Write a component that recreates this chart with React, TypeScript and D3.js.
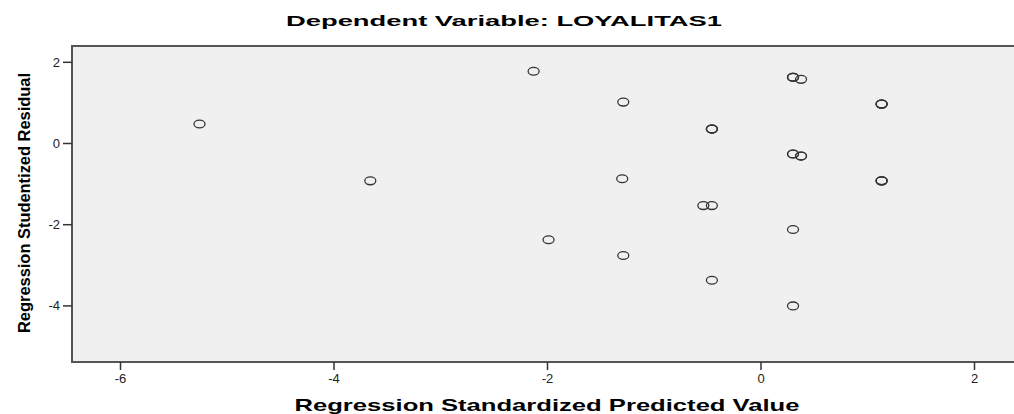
import React from "react";
import * as d3 from "d3";

const title = "Dependent Variable: LOYALITAS1";
const xTitle = "Regression Standardized Predicted Value";
const yTitle = "Regression Studentized Residual";

const xTicks = [-6, -4, -2, 0, 2];
const yTicks = [2, 0, -2, -4];

// Standardized predicted values (x) and studentized residuals (y); repeated cases overlap
const predicted = [
  -5.26, -3.66, -2.13, -1.99, -1.29, -1.3, -1.29, -0.54, -0.46,
  -0.46, -0.46, -0.46, -0.46,
  0.3, 0.3, 0.3, 0.375,
  1.13, 1.13, 1.13,
  0.3, 0.3, 0.375, 0.375,
  1.13, 1.13, 1.13,
  0.3, 0.3,
];
const residual = [
  0.48, -0.92, 1.78, -2.37, 1.02, -0.87, -2.76, -1.53, -1.53,
  -3.37, 0.355, 0.355, 0.355,
  1.63, 1.63, 1.63, 1.58,
  0.97, 0.97, 0.97,
  -0.26, -0.26, -0.31, -0.31,
  -0.92, -0.92, -0.92,
  -2.12, -4.0,
];

const W = 1014;
const H = 414;
const plot = { left: 72, top: 46, right: 1016, bottom: 362 };

export default function App() {
  const x = d3.scaleLinear().domain([0, 2]).range([761, 974.5]);
  const y = d3.scaleLinear().domain([0, 2]).range([143.5, 62.3]);
  const font = "'Liberation Sans', Arial, sans-serif";
  const pts = predicted.map((p, i) => ({ x: p, y: residual[i] }));
  return (
    <svg
      width={W}
      height={H}
      style={{ position: "absolute", left: 0, top: 0, background: "#fff" }}
    >
      <text
        x={504}
        y={26}
        textAnchor="middle"
        fontFamily={font}
        fontWeight="bold"
        fontSize={15}
        textLength={436}
        lengthAdjust="spacingAndGlyphs"
        fill="#000"
      >
        {title}
      </text>
      <rect
        x={plot.left}
        y={plot.top}
        width={plot.right - plot.left}
        height={plot.bottom - plot.top}
        fill="#f0f0f0"
        stroke="#555"
        strokeWidth={2}
      />
      {yTicks.map((t) => (
        <g key={"y" + t}>
          <line x1={63} x2={plot.left} y1={y(t)} y2={y(t)} stroke="#333" strokeWidth={1.5} />
          <text
            x={60}
            y={y(t) + 4.5}
            textAnchor="end"
            fontFamily={font}
            fontSize={13}
            fill="#222"
          >
            {t}
          </text>
        </g>
      ))}
      {xTicks.map((t) => (
        <g key={"x" + t}>
          <line x1={x(t)} x2={x(t)} y1={plot.bottom} y2={plot.bottom + 8} stroke="#333" strokeWidth={1.5} />
          <text
            x={x(t)}
            y={383}
            textAnchor="middle"
            fontFamily={font}
            fontSize={13}
            fill="#222"
          >
            {t}
          </text>
        </g>
      ))}
      {pts.map((d, i) => (
        <ellipse
          key={i}
          cx={x(d.x)}
          cy={y(d.y)}
          rx={5.5}
          ry={3.9}
          fill="none"
          stroke="#333"
          strokeWidth={1.3}
        />
      ))}
      <text
        x={547}
        y={411}
        textAnchor="middle"
        fontFamily={font}
        fontWeight="bold"
        fontSize={17}
        textLength={505}
        lengthAdjust="spacingAndGlyphs"
        fill="#000"
      >
        {xTitle}
      </text>
      <text
        transform={`translate(30,203) rotate(-90)`}
        textAnchor="middle"
        fontFamily="'Liberation Sans Narrow', 'Arial Narrow', 'Liberation Sans', sans-serif"
        fontWeight="bold"
        fontSize={17}
        textLength={260}
        lengthAdjust="spacingAndGlyphs"
        fill="#000"
      >
        {yTitle}
      </text>
    </svg>
  );
}
